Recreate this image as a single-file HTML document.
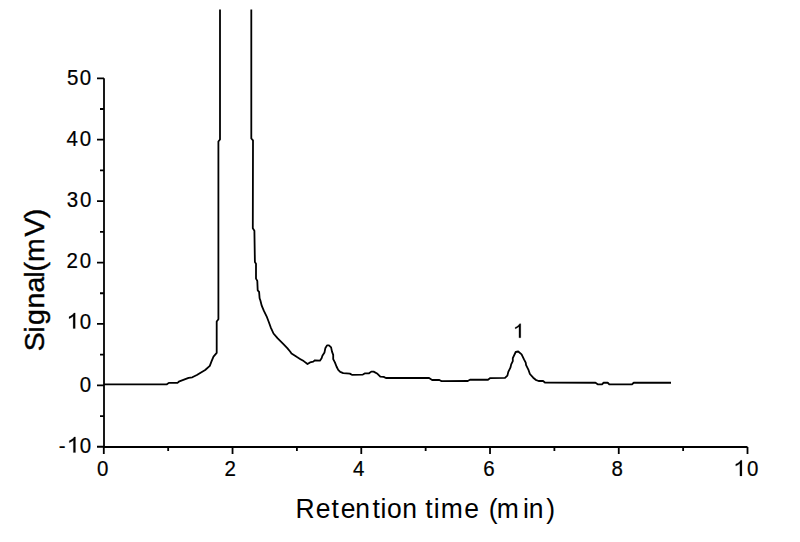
<!DOCTYPE html>
<html><head><meta charset="utf-8"><style>
html,body{margin:0;padding:0;background:#fff;}
svg{display:block;}
text{font-family:"Liberation Sans",sans-serif;fill:#000;}
</style></head><body>
<svg width="800" height="542" viewBox="0 0 800 542">
<rect width="800" height="542" fill="#fff"/>
<g fill="none" stroke="#000" stroke-width="1.8" stroke-linejoin="round" stroke-linecap="butt">
<path d="M104 78.31 V447 H747.50"/>
<path d="M97 446.77 H104 M100 416.06 H104 M97 385.36 H104 M100 354.66 H104 M97 323.95 H104 M100 293.25 H104 M97 262.54 H104 M100 231.84 H104 M97 201.13 H104 M100 170.43 H104 M97 139.72 H104 M100 109.01 H104 M97 78.31 H104 M103.80 447 V454 M168.17 447 V451 M232.54 447 V454 M296.91 447 V451 M361.28 447 V454 M425.65 447 V451 M490.02 447 V454 M554.39 447 V451 M618.76 447 V454 M683.13 447 V451 M747.50 447 V454"/>
<path d="M104 384.3 L166.9 384.3 L168.8 382.9 L177.5 382.9 L179.4 381.3 L184 379.6 L188.6 377.8 L192.3 377.3 L196.9 375 L200.6 372.7 L205.2 370 L209.8 365.8 L211.6 361.2 L213.5 356.6 L216.7 352.9 L216.7 321.5 L218.4 319.3 L218.4 141.5 L220 139.5 L220 9.5"/>
<path d="M251.3 9.5 L251.3 138.5 L253 140.4 L252.8 228.3 L254.4 230.7 L254.9 262.1 L256 263.7 L256 278.6 L257.3 280.9 L257.7 290.3 L259.1 291.9 L259.6 298.2 L260.4 300.5 L261.8 305.9 L263.8 310.7 L266.6 316.3 L268.7 321.8 L270.7 327.3 L273.5 333.5 L277.7 338.4 L283.2 343.9 L287.3 348.1 L290.1 351.5 L291.5 353.6 L297 357.1 L300 358.9 L303.7 361.1 L307.5 364 L310 362.4 L313.3 361.6 L314.9 360.3 L319.9 360.7 L321.6 358.2 L322.4 355.7 L324.5 352.4 L325.3 348.3 L327 345.4 L329 345.4 L331.1 347.4 L332 351.6 L333.2 354.9 L333.2 359.1 L334.9 362.4 L336.5 366.5 L338.2 369.9 L340.2 371.9 L343.2 373.2 L349.8 373.6 L351.9 374.8 L362.9 374.6 L365.1 373.3 L369.1 373.3 L371.3 371.6 L373.6 371.6 L377.5 373.8 L380.3 376.6 L383.7 376.9 L385.9 378 L428.7 377.8 L432.1 380 L439.4 380 L441.6 381.2 L467.75 381 L470 379.75 L488 379.75 L490.25 378.1 L505 377.9 L507.4 375.6 L508.3 371.9 L510.4 367.7 L511.2 364.4 L512.8 361.1 L512.8 358.2 L515.7 352 L518.2 351.5 L521.6 354.4 L524 359.4 L525.7 362.7 L526.1 365.2 L528.6 370.2 L529.9 374 L533.2 377.7 L535.7 379.8 L538.6 381 L543.1 381 L545.2 382.7 L595.5 382.75 L598 384.4 L602 384.4 L603.6 382.75 L607.7 382.75 L609.3 384.4 L632 384.4 L633.7 382.75 L671 382.75"/>
</g>
<text transform="translate(0,84.55) scale(1,1.11)" x="66.93 79.70" y="0" font-size="20.5" stroke="#000" stroke-width="0.2">50</text>
<text transform="translate(0,145.55) scale(1,1.11)" x="66.53 79.70" y="0" font-size="20.5" stroke="#000" stroke-width="0.2">40</text>
<text transform="translate(0,206.55) scale(1,1.11)" x="66.72 79.95" y="0" font-size="20.5" stroke="#000" stroke-width="0.2">30</text>
<text transform="translate(0,267.55) scale(1,1.11)" x="66.47 79.70" y="0" font-size="20.5" stroke="#000" stroke-width="0.2">20</text>
<text transform="translate(0,328.55) scale(1,1.11)" x="79.70" y="0" font-size="20.5" stroke="#000" stroke-width="0.2">0</text><path transform="translate(66.43,328.55) scale(0.01151,-0.01111)" d="M583 0H763V1409H646C610 1340 550 1270 480 1210C400 1140 300 1090 223 1060V887C340 930 470 1010 583 1105Z" stroke="#000" stroke-width="0.2" vector-effect="non-scaling-stroke"/>
<text transform="translate(0,391.55) scale(1,1.11)" x="79.70" y="0" font-size="20.5" stroke="#000" stroke-width="0.2">0</text>
<text transform="translate(0,452.55) scale(1,1.11)" x="58.84 79.70" y="0" font-size="20.5" stroke="#000" stroke-width="0.2">-0</text><path transform="translate(66.68,452.55) scale(0.01151,-0.01111)" d="M583 0H763V1409H646C610 1340 550 1270 480 1210C400 1140 300 1090 223 1060V887C340 930 470 1010 583 1105Z" stroke="#000" stroke-width="0.2" vector-effect="non-scaling-stroke"/>
<text transform="translate(0,475.7) scale(1,1.11)" x="97.00" y="0" font-size="20.5" stroke="#000" stroke-width="0.2">0</text>
<text transform="translate(0,475.7) scale(1,1.11)" x="224.57" y="0" font-size="20.5" stroke="#000" stroke-width="0.2">2</text>
<text transform="translate(0,475.7) scale(1,1.11)" x="353.03" y="0" font-size="20.5" stroke="#000" stroke-width="0.2">4</text>
<text transform="translate(0,475.7) scale(1,1.11)" x="483.26" y="0" font-size="20.5" stroke="#000" stroke-width="0.2">6</text>
<text transform="translate(0,475.7) scale(1,1.11)" x="611.46" y="0" font-size="20.5" stroke="#000" stroke-width="0.2">8</text>
<text transform="translate(0,475.90000000000003) scale(1,1.11)" x="746.95" y="0" font-size="20.5" stroke="#000" stroke-width="0.2">0</text><path transform="translate(733.18,475.90000000000003) scale(0.01151,-0.01111)" d="M583 0H763V1409H646C610 1340 550 1270 480 1210C400 1140 300 1090 223 1060V887C340 930 470 1010 583 1105Z" stroke="#000" stroke-width="0.2" vector-effect="non-scaling-stroke"/>
<path transform="translate(512.88,337.8) scale(0.01039,-0.01003)" d="M583 0H763V1409H646C610 1340 550 1270 480 1210C400 1140 300 1090 223 1060V887C340 930 470 1010 583 1105Z" stroke="#000" stroke-width="0.2" vector-effect="non-scaling-stroke"/>
<text transform="translate(0,518.4) scale(1,1.07)" x="295.58 315.87 331.50 340.77 355.34 372.40 380.63 386.99 402.14 425.35 433.63 440.64 464.37 488.66 496.84 523.13 528.74 546.14" y="0" font-size="26.5">Retentiontime(min)</text>
<text transform="translate(44.0,400.0) rotate(-90)" x="48.81 67.39 75.10 91.41 107.59 122.38 128.63 138.01 163.57 181.83" y="0" font-size="28.5" stroke="#000" stroke-width="0.4">Signal(mV)</text>
</svg>
</body></html>
